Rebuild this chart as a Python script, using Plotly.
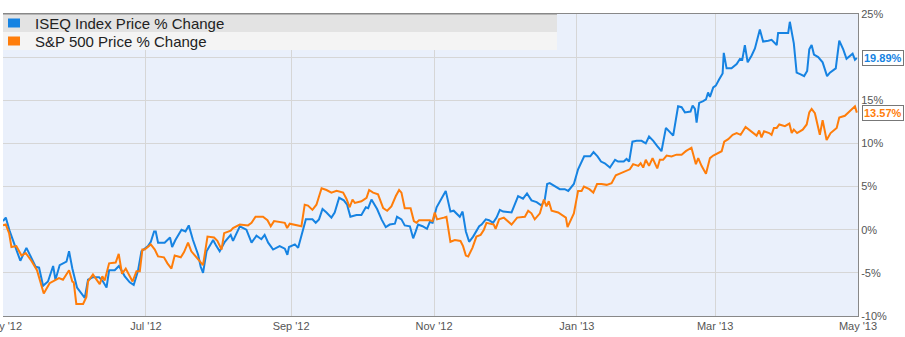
import pandas as pd
import plotly.graph_objects as go

# Day offsets from 1 May 2012 and % change values
start_date = "2012-05-01"
end_date = "2013-05-01"

iseq_days = [0, 1.2, 2.9, 5.0, 7.4, 10.0, 12.1, 14.0, 15.4, 17.1,
             19.2, 21.4, 22.4, 24.2, 27.1, 28.2, 29.6, 31.6, 34.9, 36.3,
             38.4, 41.0, 42.7, 44.2, 45.3, 47.7, 49.5, 52.0, 54.1, 55.8,
             57.6, 59.1, 61.9, 63.1, 64.5, 65.2, 66.2, 69.0, 71.3, 72.2,
             73.6, 76.2, 77.9, 79.3, 81.1, 83.3, 84.4, 85.4, 86.9, 89.7,
             91.1, 92.5, 94.7, 97.2, 98.2, 101.1, 103.9, 106.1, 108.2, 110.3,
             111.7, 113.2, 115.3, 118.1, 120.3, 121.4, 122.1, 124.6, 126.0, 127.4,
             129.3, 132.1, 133.5, 134.9, 136.4, 138.1, 140.2, 141.6, 143.5, 145.5,
             146.9, 148.3, 150.9, 153.0, 154.9, 155.9, 157.3, 159.7, 161.6, 163.4,
             165.1, 167.3, 168.2, 170.1, 171.5, 173.7, 175.1, 176.2, 177.2, 179.1,
             181.0, 182.2, 183.4, 185.1, 187.2, 189.0, 191.0, 192.4, 195.0, 196.2,
             197.6, 199.0, 200.7, 203.3, 204.3, 206.1, 207.5, 209.2, 210.7, 212.1,
             213.5, 217.1, 219.9, 222.0, 223.7, 225.6, 227.8, 229.9, 231.3, 232.3,
             233.4, 235.6, 237.7, 239.8, 241.3, 243.7, 245.5, 248.1, 250.7, 252.1,
             253.8, 255.3, 256.9, 259.1, 261.3, 262.6, 265.0, 266.2, 267.3, 268.7,
             270.5, 272.6, 274.4, 275.8, 277.6, 279.3, 281.1, 283.0, 284.4, 286.1,
             288.2, 289.7, 291.1, 293.5, 294.4, 295.4, 296.1, 297.2, 298.9, 300.1,
             301.0, 301.8, 303.2, 304.3, 305.7, 307.2, 307.7, 308.9, 311.0, 313.2,
             314.6, 315.6, 316.7, 317.9, 319.6, 321.0, 323.1, 324.5, 326.7, 328.1,
             330.3, 330.9, 335.2, 335.9, 337.6, 338.8, 340.5, 342.0, 343.3, 344.2,
             345.2, 346.2, 348.0, 349.9, 351.8, 353.0, 355.5, 357.0, 358.7, 360.1,
             362.7, 363.7, 364.5]

iseq_values = [1.0, 1.4, -0.2, -1.9, -3.6, -2.1, -3.3, -4.3, -4.4, -6.5,
               -6.0, -4.2, -5.8, -4.1, -3.7, -2.5, -4.5, -6.7, -7.9, -5.8,
               -5.5, -5.5, -6.0, -6.7, -4.7, -4.7, -4.2, -5.4, -6.1, -6.4,
               -4.8, -2.5, -1.9, -1.4, -0.2, -0.2, -1.5, -1.5, -0.9, -2.0,
               -1.2, 0.0, -0.2, 0.5, -1.2, -2.9, -4.3, -5.0, -2.5, -1.2,
               -1.9, -2.5, -1.4, -0.6, -1.3, 0.4, 0.0, -1.5, -0.7, -1.1,
               -0.6, -1.5, -2.3, -1.9, -2.2, -2.9, -2.0, -1.7, -2.1, -0.8,
               1.2, 1.2, 0.8, 1.2, 2.4, 2.0, 1.4, 2.0, 3.7, 3.4,
               2.9, 1.5, 1.7, 1.7, 2.6, 2.5, 3.5, 2.4, 1.2, 0.3,
               0.6, 0.7, 1.5, 1.2, 0.5, 0.4, -1.0, -0.2, 0.6, 0.4,
               0.1, 0.9, 0.8, 2.6, 3.7, 4.5, 2.1, 2.2, 1.5, 2.1,
               -0.2, -1.4, -0.8, 0.4, 0.6, 1.2, 1.1, 0.8, 1.4, 2.3,
               2.1, 2.0, 3.9, 3.6, 4.2, 3.4, 3.2, 2.8, 3.5, 5.3,
               5.4, 5.0, 4.7, 4.7, 4.5, 5.3, 7.0, 8.5, 8.5, 9.0,
               8.5, 7.9, 7.7, 7.2, 8.1, 7.9, 7.9, 8.2, 7.9, 10.2,
               10.3, 10.3, 10.0, 10.8, 10.3, 9.7, 9.1, 11.8, 11.4, 10.9,
               14.3, 14.2, 13.6, 13.7, 14.4, 14.0, 12.4, 14.7, 14.9, 15.1,
               15.9, 15.4, 16.5, 16.7, 17.4, 18.1, 20.5, 18.7, 18.7, 19.2,
               19.8, 19.7, 21.4, 19.4, 20.2, 21.0, 23.2, 21.8, 21.9, 22.0,
               21.4, 22.8, 22.8, 24.1, 21.6, 18.2, 18.0, 17.8, 18.4, 20.9,
               21.4, 20.3, 20.0, 19.4, 17.8, 18.2, 18.7, 21.9, 20.9, 19.8,
               20.4, 19.7, 19.89]

sp_days = [0, 1.2, 2.6, 3.6, 5.7, 7.9, 9.7, 12.1, 14.5, 15.7,
           17.4, 19.9, 22.5, 23.9, 25.6, 28.2, 29.6, 30.2, 31.3, 34.2,
           35.6, 36.3, 38.4, 41.3, 42.4, 43.4, 45.3, 48.1, 49.4, 50.8,
           52.4, 55.3, 57.0, 58.4, 59.5, 60.5, 63.1, 64.8, 66.2, 68.7,
           70.2, 71.9, 73.3, 75.9, 77.3, 79.0, 80.4, 82.6, 84.0, 85.4,
           87.3, 90.1, 91.5, 93.3, 94.4, 97.2, 98.2, 101.1, 104.6, 106.1,
           107.8, 111.0, 112.9, 114.3, 115.7, 118.9, 120.3, 121.3, 122.4, 127.4,
           128.8, 130.2, 132.1, 133.8, 136.0, 138.1, 140.2, 142.4, 145.2, 146.6,
           148.0, 149.2, 150.2, 153.0, 155.2, 156.3, 158.0, 160.1, 162.3, 164.0,
           165.8, 167.7, 169.1, 170.1, 171.5, 174.0, 175.4, 176.5, 177.6, 182.2,
           183.4, 184.3, 185.3, 188.2, 189.3, 191.0, 192.9, 195.3, 196.4, 197.6,
           198.6, 200.4, 202.1, 203.9, 205.3, 206.4, 208.1, 209.5, 210.3, 211.8,
           213.8, 217.1, 219.5, 222.8, 224.2, 225.6, 227.0, 229.2, 230.9, 232.0,
           233.0, 234.2, 237.0, 239.1, 240.3, 241.0, 243.7, 245.5, 247.0, 248.0,
           250.3, 252.0, 253.6, 255.5, 257.7, 259.8, 261.6, 263.3, 265.5, 267.6,
           269.0, 271.2, 272.2, 273.3, 274.4, 275.8, 277.3, 279.3, 280.4, 281.8,
           283.3, 285.4, 287.5, 289.7, 291.5, 293.9, 295.8, 296.8, 298.2, 300.1,
           301.8, 303.2, 306.8, 307.9, 309.6, 311.5, 313.2, 314.9, 317.0, 319.6,
           321.7, 322.8, 323.8, 324.9, 327.1, 328.1, 329.1, 330.3, 331.4, 333.8,
           335.7, 336.7, 337.6, 339.0, 341.4, 343.1, 344.2, 345.2, 346.6, 348.7,
           349.9, 351.6, 353.3, 355.9, 357.0, 359.4, 361.6, 363.7, 364.5]

sp_values = [0.5, 0.6, -0.4, -2.0, -1.9, -3.0, -2.7, -3.6, -4.7, -5.8,
             -7.4, -6.2, -5.8, -5.6, -5.8, -4.7, -6.0, -6.1, -8.6, -8.6,
             -7.8, -6.0, -5.2, -6.3, -5.4, -5.9, -3.9, -3.8, -2.8, -5.1,
             -4.5, -6.0, -4.8, -4.8, -2.3, -2.3, -1.7, -2.3, -3.1, -3.2,
             -3.9, -4.5, -3.0, -3.2, -2.6, -1.5, -2.5, -3.2, -3.6, -4.1,
             -0.8, -0.9, -1.3, -2.3, -0.4, -0.1, 0.2, 0.6, 0.5, 0.8,
             1.5, 1.5, 1.1, 0.4, 1.0, 0.9, 0.8, 0.2, 0.7, 0.4,
             2.9, 2.8, 2.3, 2.9, 4.8, 4.6, 4.3, 4.5, 4.3, 3.6,
             2.6, 3.5, 3.1, 3.3, 3.7, 4.6, 4.3, 4.1, 2.5, 2.2,
             2.7, 3.9, 4.6, 4.3, 2.5, 2.5, 1.0, 0.8, 1.1, 1.1,
             1.0, 2.0, 1.2, 1.4, 1.5, -1.4, -1.2, -1.3, -1.9, -3.0,
             -3.1, -2.1, -0.8, -0.6, 0.0, 0.8, 0.7, 0.6, 0.1, 1.2,
             1.4, 0.6, 1.4, 1.5, 2.2, 1.9, 1.2, 1.9, 3.5, 2.7,
             3.3, 2.2, 2.0, 1.6, 1.4, 0.3, 1.9, 4.5, 4.5, 5.0,
             4.7, 4.3, 5.3, 5.3, 5.2, 5.4, 6.3, 6.5, 6.8, 7.0,
             7.6, 7.4, 7.7, 7.2, 8.1, 7.4, 8.3, 7.1, 8.1, 8.1,
             8.6, 8.5, 8.7, 8.7, 9.1, 9.5, 7.6, 8.3, 7.4, 6.5,
             8.3, 8.6, 9.1, 10.2, 10.5, 11.0, 11.2, 11.0, 11.9, 11.4,
             10.9, 11.5, 10.7, 11.4, 11.2, 11.0, 11.8, 11.8, 12.2, 12.0,
             12.3, 11.2, 11.6, 11.2, 11.6, 12.2, 13.6, 14.0, 13.5, 11.0,
             12.7, 10.4, 11.2, 11.8, 13.0, 13.2, 13.8, 14.3, 13.57]

series_names = ["ISEQ Index Price % Change", "S&P 500 Price % Change"]
series_colors = ["#1683e2", "#ff7d0a"]
last_labels = ["19.89%", "13.57%"]

# y tick values and their labels (20% label is hidden behind the value tag)
y_tickvals = [-10, -5, 0, 5, 10, 15, 20, 25]
y_ticktext = ["-10%", "-5%", "0%", "5%", "10%", "15%", "", "25%"]

t0 = pd.Timestamp(start_date)
iseq_x = t0 + pd.to_timedelta(iseq_days, unit="D")
sp_x = t0 + pd.to_timedelta(sp_days, unit="D")

fig = go.Figure()
fig.add_trace(go.Scatter(x=iseq_x, y=iseq_values, mode="lines", name=series_names[0],
                         line=dict(color=series_colors[0], width=2)))
fig.add_trace(go.Scatter(x=sp_x, y=sp_values, mode="lines", name=series_names[1],
                         line=dict(color=series_colors[1], width=2)))

W, H = 905, 337
ml, mr, mt, mb = 3, 47, 14, 21
pw, ph = W - ml - mr, H - mt - mb


def px_x(x):
    return (x - ml) / pw


def px_y(y):
    return 1 - (y - mt) / ph


shapes = []
annotations = []
row_bgs = ["#e3e3e3", "#f4f4f4"]
row_tops = [14, 32]
for i in range(2):
    top = row_tops[i]
    shapes.append(dict(type="rect", xref="paper", yref="paper", layer="above",
                       x0=px_x(3), x1=px_x(557), y0=px_y(top + 18), y1=px_y(top),
                       fillcolor=row_bgs[i], line=dict(width=0)))
    shapes.append(dict(type="rect", xref="paper", yref="paper", layer="above",
                       x0=px_x(8), x1=px_x(20), y0=px_y(top + 13.5), y1=px_y(top + 4.5),
                       fillcolor=series_colors[i], line=dict(width=0)))
    annotations.append(dict(xref="paper", yref="paper", x=px_x(33), y=px_y(top + 9.5),
                            xanchor="left", yanchor="middle", showarrow=False,
                            text=series_names[i],
                            font=dict(family="Liberation Sans, Arial, sans-serif", size=15, color="#222")))
# legend top border
shapes.append(dict(type="line", xref="paper", yref="paper", layer="above",
                   x0=px_x(3), x1=px_x(557), y0=1, y1=1, line=dict(color="#888", width=1)))

# last value labels
for i, (vals, lbl) in enumerate([(iseq_values, last_labels[0]), (sp_values, last_labels[1])]):
    annotations.append(dict(xref="paper", yref="y", x=1, y=vals[-1], xanchor="left",
                            yanchor="middle", xshift=4, showarrow=False, text="<b>" + lbl + "</b>",
                            font=dict(family="Liberation Sans, Arial, sans-serif", size=11,
                                      color=series_colors[i]),
                            bgcolor="white", bordercolor="#777", borderwidth=1, borderpad=1))

tickfont = dict(family="Liberation Sans Narrow, Liberation Sans, Arial, sans-serif", size=11, color="#555")

fig.update_layout(
    width=W, height=H,
    margin=dict(l=ml, r=mr, t=mt, b=mb, pad=0, autoexpand=False),
    paper_bgcolor="white", plot_bgcolor="#eaf0fb",
    showlegend=False,
    shapes=shapes, annotations=annotations,
    xaxis=dict(type="date", range=[t0, pd.Timestamp(end_date)],
               tick0=start_date, dtick="M2", tickformat="%b '%y",
               showgrid=True, gridcolor="#d6d6d6", gridwidth=1,
               showline=True, linecolor="#888", linewidth=1, mirror=True,
               ticks="", tickfont=tickfont, ticklabeloverflow="allow", zeroline=False,
               automargin=False),
    yaxis=dict(side="right", range=[-10, 25], tickmode="array", tickvals=y_tickvals,
               ticktext=y_ticktext,
               showgrid=True, gridcolor="#d6d6d6", gridwidth=1,
               showline=True, linecolor="#888", linewidth=1,
               ticks="", tickfont=tickfont, zeroline=False, automargin=False),
)

fig.write_html("out.html")
